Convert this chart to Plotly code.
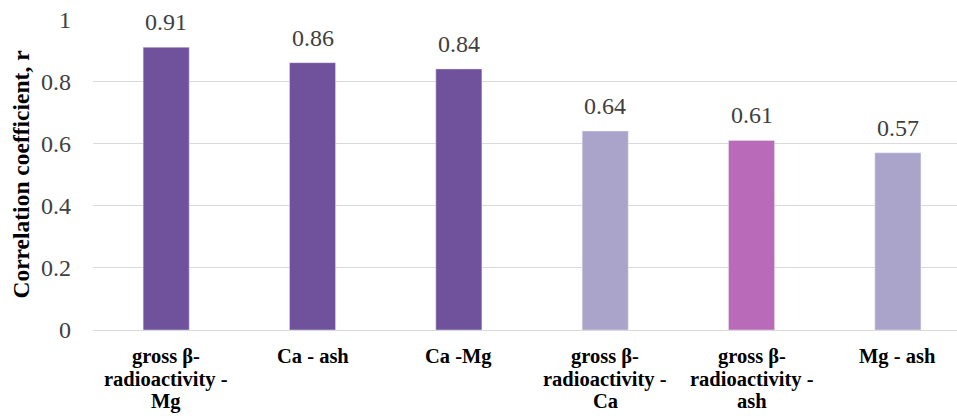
import plotly.graph_objects as go

category_lines = [["gross β-", "radioactivity -", "Mg"], ["Ca - ash"], ["Ca -Mg"],
                  ["gross β-", "radioactivity -", "Ca"], ["gross β-", "radioactivity -", "ash"],
                  ["Mg - ash"]]
values = [0.91, 0.86, 0.84, 0.64, 0.61, 0.57]
labels = ["0.91", "0.86", "0.84", "0.64", "0.61", "0.57"]
colors = ["#6F529B", "#6F529B", "#6F529B", "#ABA4CA", "#B96BB9", "#ABA4CA"]
y_ticks = [0, 0.2, 0.4, 0.6, 0.8, 1]
y_tick_text = ["0", "0.2", "0.4", "0.6", "0.8", "1"]

SERIF = "Liberation Serif, Times New Roman, serif"
x_pos = list(range(len(category_lines)))

fig = go.Figure()
fig.add_trace(go.Bar(x=x_pos, y=values, marker_color=colors,
                     width=0.315, hoverinfo="skip"))

for i, (v, t) in enumerate(zip(values, labels)):
    fig.add_annotation(x=i, y=v, text=t, showarrow=False, yanchor="bottom", yshift=10,
                       font=dict(family=SERIF, size=24, color="#404040"))

# category labels (one annotation per line, tighter line spacing like the reference)
for i, lines in enumerate(category_lines):
    for k, line in enumerate(lines):
        fig.add_annotation(x=i, xref="x", y=0, yref="paper", text="<b>" + line + "</b>",
                           showarrow=False, yanchor="top", yshift=-13 - 22.5 * k,
                           font=dict(family=SERIF, size=20.5, color="#000000"))

fig.update_layout(
    width=957, height=416,
    margin=dict(l=93, r=0, t=19, b=86),
    plot_bgcolor="white", paper_bgcolor="white",
    showlegend=False,
    font=dict(family=SERIF, color="#000000"),
    xaxis=dict(tickvals=x_pos, showticklabels=False,
               range=[-0.5, 5.404], showgrid=False, showline=False, zeroline=False,
               ticks="", automargin=False),
    yaxis=dict(range=[0, 1.0005], tickvals=y_ticks, ticktext=y_tick_text,
               showgrid=True, gridcolor="#D9D9D9", gridwidth=1.3,
               zeroline=True, zerolinecolor="#D9D9D9", zerolinewidth=1.3,
               tickfont=dict(family=SERIF, size=24, color="#404040"),
               ticklabelstandoff=21, automargin=False,
               title=dict(text="<b>Correlation coefficient, r</b>", standoff=4,
                          font=dict(family=SERIF, size=23.5, color="#000000"))),
)

fig.write_html("out.html")
